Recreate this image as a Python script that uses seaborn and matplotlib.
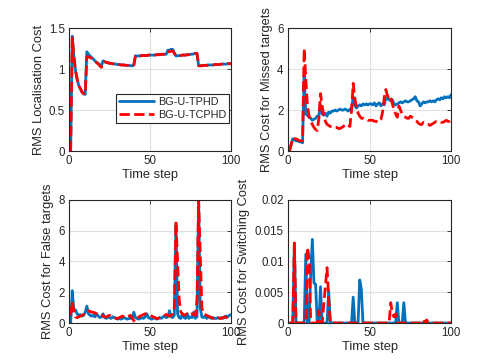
import numpy as np
import pandas as pd
import matplotlib
matplotlib.use("Agg")
import matplotlib.pyplot as plt
import seaborn as sns
from matplotlib.ticker import FormatStrFormatter

time_step = list(range(1, 101))

loc_tphd = [0.00, 1.40, 1.15, 0.98, 0.88, 0.80, 0.76, 0.72, 0.70, 0.69,
            1.21, 1.18, 1.16, 1.14, 1.12, 1.10, 1.08, 1.07, 1.05, 1.04,
            1.10, 1.09, 1.08, 1.08, 1.07, 1.07, 1.065, 1.06, 1.06, 1.055,
            1.055, 1.05, 1.05, 1.05, 1.045, 1.045, 1.045, 1.04, 1.04, 1.05,
            1.16, 1.16, 1.16, 1.16, 1.165, 1.165, 1.165, 1.165, 1.17, 1.17,
            1.17, 1.17, 1.17, 1.175, 1.175, 1.175, 1.18, 1.18, 1.18, 1.18,
            1.23, 1.23, 1.24, 1.24, 1.20, 1.16, 1.16, 1.165, 1.165, 1.17,
            1.17, 1.17, 1.175, 1.175, 1.18, 1.18, 1.185, 1.19, 1.19, 1.04,
            1.04, 1.04, 1.045, 1.045, 1.045, 1.05, 1.05, 1.05, 1.05, 1.055,
            1.055, 1.055, 1.055, 1.06, 1.06, 1.06, 1.06, 1.065, 1.065, 1.065]
loc_tcphd = [0.00, 1.38, 1.15, 0.98, 0.88, 0.80, 0.76, 0.72, 0.70, 0.69,
             1.15, 1.15, 1.14, 1.13, 1.11, 1.09, 1.08, 1.06, 1.04, 1.02,
             1.08, 1.09, 1.08, 1.075, 1.07, 1.07, 1.065, 1.06, 1.06, 1.055,
             1.055, 1.05, 1.05, 1.05, 1.045, 1.045, 1.045, 1.04, 1.04, 1.05,
             1.16, 1.16, 1.16, 1.16, 1.165, 1.165, 1.165, 1.165, 1.17, 1.17,
             1.17, 1.17, 1.17, 1.175, 1.175, 1.175, 1.18, 1.18, 1.18, 1.18,
             1.21, 1.21, 1.22, 1.22, 1.19, 1.16, 1.16, 1.165, 1.165, 1.17,
             1.17, 1.17, 1.175, 1.175, 1.18, 1.18, 1.185, 1.19, 1.19, 1.04,
             1.04, 1.04, 1.045, 1.045, 1.045, 1.05, 1.05, 1.05, 1.05, 1.055,
             1.055, 1.055, 1.055, 1.06, 1.06, 1.06, 1.06, 1.065, 1.065, 1.065]

miss_tphd = [0.0, 0.3, 0.6, 0.55, 0.5, 0.5, 0.45, 0.45, 0.4, 3.7,
             1.8, 1.75, 1.65, 1.6, 1.5, 1.55, 1.6, 1.7, 1.75, 2.25,
             1.8, 1.75, 1.85, 1.7, 1.9, 1.85, 1.95, 1.95, 2.0, 1.95,
             2.0, 2.05, 2.0, 2.0, 2.05, 2.0, 1.95, 2.05, 2.0, 2.65,
             2.25, 2.1, 2.2, 2.25, 2.2, 2.3, 2.25, 2.3, 2.25, 2.3,
             2.3, 2.25, 2.35, 2.2, 2.3, 2.35, 2.2, 2.3, 2.25, 2.6,
             2.55, 2.5, 2.45, 2.5, 2.3, 2.25, 2.3, 2.35, 2.4, 2.35,
             2.4, 2.45, 2.4, 2.4, 2.45, 2.5, 2.55, 2.65, 2.45, 2.4,
             2.2, 2.3, 2.4, 2.35, 2.4, 2.4, 2.45, 2.4, 2.45, 2.4,
             2.5, 2.55, 2.5, 2.6, 2.55, 2.65, 2.6, 2.65, 2.6, 2.75]
miss_tcphd = [0.0, 0.3, 0.65, 0.6, 0.6, 0.55, 0.5, 0.5, 0.5, 5.0,
              3.5, 2.2, 1.7, 1.45, 1.3, 1.15, 1.05, 1.0, 1.6, 2.8,
              2.2, 1.7, 1.45, 1.3, 1.25, 1.2, 1.2, 1.15, 1.15, 1.15,
              1.1, 1.1, 1.15, 1.2, 1.3, 1.3, 1.25, 1.2, 2.0, 3.3,
              2.6, 2.1, 1.85, 1.7, 1.6, 1.6, 1.55, 1.55, 1.5, 1.5,
              1.5, 1.5, 1.45, 1.45, 1.4, 1.45, 1.55, 1.9, 2.6, 3.0,
              2.7, 2.5, 2.6, 2.3, 2.0, 1.8, 1.65, 2.2, 2.0, 1.8,
              1.7, 1.65, 1.6, 1.6, 1.7, 1.65, 1.6, 1.5, 1.45, 1.35,
              1.3, 1.3, 1.4, 1.35, 1.3, 1.3, 1.25, 1.3, 1.35, 1.4,
              1.45, 1.45, 1.45, 1.4, 1.4, 1.45, 1.5, 1.45, 1.45, 1.5]

false_tphd = [0.0, 2.1, 0.8, 0.85, 0.6, 0.5, 0.55, 0.45, 0.5, 0.7,
              1.1, 0.6, 0.5, 0.45, 0.5, 0.4, 0.6, 0.45, 0.35, 0.4,
              0.6, 0.35, 0.3, 0.4, 0.35, 0.3, 0.4, 0.35, 0.3, 0.25,
              0.3, 0.25, 0.3, 0.35, 0.3, 0.25, 0.3, 0.3, 0.35, 0.7,
              0.35, 0.3, 0.25, 0.3, 0.35, 0.3, 0.4, 0.6, 0.35, 0.3,
              0.25, 0.3, 0.35, 0.25, 0.3, 0.35, 0.3, 0.4, 0.45, 0.35,
              0.4, 0.8, 0.4, 0.35, 0.5, 6.5, 0.6, 0.35, 0.3, 0.6,
              0.35, 0.3, 0.6, 0.3, 0.4, 0.35, 0.7, 0.3, 0.4, 8.0,
              1.0, 0.4, 0.35, 0.45, 0.3, 0.4, 0.35, 0.3, 0.35, 0.3,
              0.3, 0.35, 0.3, 0.35, 0.3, 0.4, 0.45, 0.4, 0.5, 0.55]
false_tcphd = [0.5, 1.4, 0.8, 0.4, 0.35, 0.4, 0.45, 0.5, 0.55, 0.6,
               0.75, 0.8, 0.75, 0.7, 0.7, 0.65, 0.6, 0.55, 0.5, 0.5,
               0.45, 0.4, 0.4, 0.45, 0.5, 0.45, 0.4, 0.35, 0.3, 0.3,
               0.35, 0.4, 0.45, 0.4, 0.35, 0.4, 0.45, 0.5, 0.3, 0.15,
               0.1, 0.2, 0.4, 0.45, 0.5, 0.55, 0.6, 0.6, 0.55, 0.5,
               0.45, 0.4, 0.35, 0.3, 0.3, 0.35, 0.4, 0.45, 0.5, 0.55,
               0.5, 0.45, 0.5, 0.6, 1.0, 6.6, 4.0, 1.5, 0.7, 0.6,
               0.5, 0.55, 0.6, 0.55, 0.5, 0.6, 0.55, 0.5, 1.5, 8.0,
               4.5, 1.0, 0.6, 0.55, 0.5, 0.45, 0.4, 0.35, 0.3, 0.35,
               0.3, 0.35, 0.3, 0.3, 0.35, 0.4, 0.35, 0.4, 0.45, 0.5]

switch_tphd = [0, 0, 0, 0.013, 0, 0, 0, 0, 0, 0,
               0.0112, 0, 0, 0.008, 0.0136, 0.0065, 0.0063, 0, 0, 0.0059,
               0, 0, 0, 0, 0.0052, 0, 0, 0, 0, 0,
               0, 0, 0, 0, 0, 0, 0, 0, 0, 0.0042,
               0, 0, 0, 0.007, 0.0055, 0, 0, 0, 0, 0,
               0, 0, 0, 0, 0, 0, 0, 0, 0, 0,
               0, 0, 0, 0, 0, 0, 0.0033, 0, 0, 0,
               0.0033, 0, 0, 0, 0, 0, 0, 0, 0, 0,
               0, 0, 0, 0, 0, 0, 0, 0, 0, 0,
               0, 0, 0, 0, 0, 0, 0, 0, 0, 0]
switch_tcphd = [0, 0, 0, 0.013, 0, 0, 0, 0, 0, 0,
                0, 0.0123, 0.0105, 0, 0, 0, 0, 0, 0.002, 0,
                0, 0.003, 0.006, 0.009, 0.004, 0, 0, 0, 0, 0,
                0, 0, 0, 0, 0, 0, 0, 0, 0, 0,
                0, 0, 0, 0, 0, 0, 0, 0, 0, 0,
                0, 0, 0, 0, 0, 0, 0, 0, 0, 0,
                0, 0, 0.0033, 0.0015, 0.001, 0.0015, 0, 0, 0, 0,
                0, 0, 0, 0, 0, 0, 0, 0, 0, 0,
                0, 0.0005, 0.0005, 0, 0.0005, 0, 0, 0, 0, 0,
                0, 0, 0, 0, 0, 0, 0, 0, 0, 0]

labels = ["BG-U-TPHD", "BG-U-TCPHD"]
ylabels = ["RMS Localisation Cost", "RMS Cost for Missed targets",
           "RMS Cost for False targets", "RMS Cost for Switching Cost"]
yticks = [[0, 0.5, 1, 1.5], [0, 2, 4, 6], [0, 2, 4, 6, 8],
          [0, 0.005, 0.01, 0.015, 0.02]]
ylims = [(0, 1.5), (0, 6), (0, 8), (0, 0.02)]
series = [(loc_tphd, loc_tcphd), (miss_tphd, miss_tcphd),
          (false_tphd, false_tcphd), (switch_tphd, switch_tcphd)]

sns.set_style("white")
plt.rcParams['font.family'] = ['Liberation Sans', 'DejaVu Sans']

fig = plt.figure(figsize=(4.98, 3.64), dpi=100)
positions = [
    [0.1386, 0.585, 0.3253, 0.338],
    [0.578, 0.585, 0.328, 0.338],
    [0.1386, 0.1126, 0.3253, 0.338],
    [0.578, 0.1126, 0.328, 0.338],
]
blue = "#0072BD"
red = "#FF0000"
gray = (0.15, 0.15, 0.15)

for i, (s1, s2) in enumerate(series):
    ax = fig.add_axes(positions[i])
    df = pd.DataFrame({"t": time_step, "a": s1, "b": s2})
    sns.lineplot(data=df, x="t", y="a", ax=ax, color=blue, lw=2.0,
                 label=labels[0] if i == 0 else None, legend=False)
    sns.lineplot(data=df, x="t", y="b", ax=ax, color=red, lw=2.0,
                 linestyle="--", label=labels[1] if i == 0 else None,
                 legend=False)
    ax.set_xlim(0, 100)
    ax.set_ylim(*ylims[i])
    ax.set_xticks([0, 50, 100])
    ax.set_yticks(yticks[i])
    ax.yaxis.set_major_formatter(FormatStrFormatter('%g'))
    ax.grid(True, color=(0.88, 0.88, 0.88), lw=0.8)
    ax.set_axisbelow(True)
    for sp in ax.spines.values():
        sp.set_visible(True)
        sp.set_color(gray)
        sp.set_linewidth(0.8)
    ax.tick_params(direction="in", length=3, width=0.6, top=True,
                   right=True, labelsize=8.3, colors=gray, pad=3,
                   labelcolor=gray)
    ax.set_xlabel("Time step", fontsize=9.3, color=gray, labelpad=1)
    ax.set_ylabel(ylabels[i], fontsize=9.3, color=gray, labelpad=3)
    if i == 0:
        leg = ax.legend(loc="lower right", bbox_to_anchor=(0.99, 0.228),
                        fontsize=7.8, frameon=True, fancybox=False,
                        framealpha=1, edgecolor=gray, handlelength=3.2,
                        borderpad=0.3, labelspacing=0.25,
                        handletextpad=0.4, borderaxespad=0.0)
        leg.get_frame().set_linewidth(0.8)

fig.savefig("out.png", dpi=100)
